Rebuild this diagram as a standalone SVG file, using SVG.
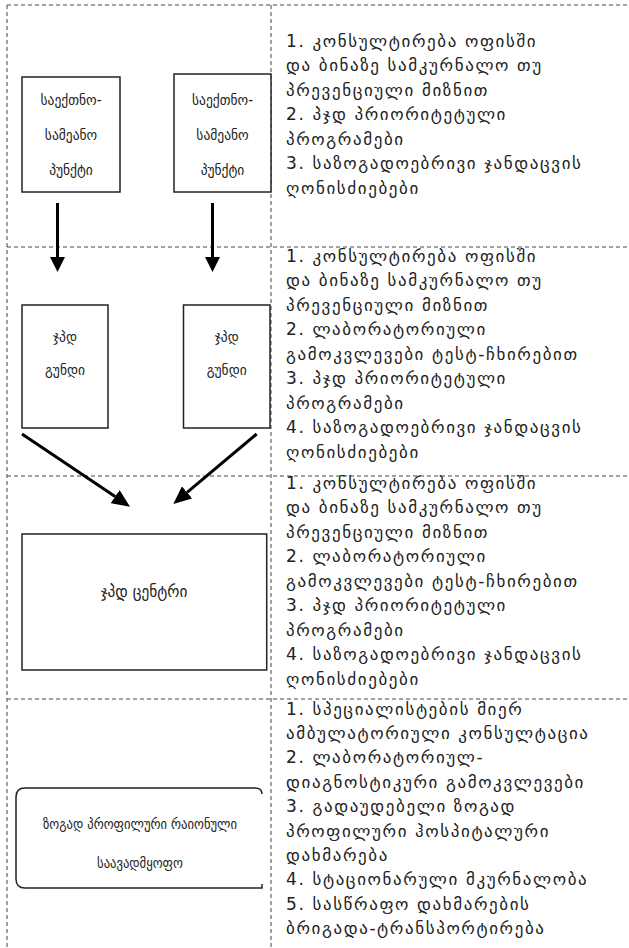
<svg xmlns="http://www.w3.org/2000/svg" width="629" height="948" viewBox="0 0 629 948">
<style>
  .grid { stroke: #444; stroke-width: 1; stroke-dasharray: 4 3; fill: none; }
  .box { fill: #fff; stroke: #222; stroke-width: 1.5; }
  .conn { stroke: #000; stroke-width: 3; fill: none; }
  .list { font-family: "DejaVu Sans", "Noto Sans", sans-serif; font-size: 17px; letter-spacing: 1.6px; fill: #222; }
  .lbl { font-family: "DejaVu Sans Condensed", "DejaVu Sans", sans-serif; font-size: 15px; fill: #222; text-anchor: middle; }
</style>
<defs>
  <marker id="headV" viewBox="0 0 15 15" refX="0" refY="7.5" markerWidth="15" markerHeight="15" markerUnits="userSpaceOnUse" orient="auto">
    <path d="M0,0 L15,7.5 L0,15 Z" fill="#000"/>
  </marker>
  <marker id="headD" viewBox="0 0 18 16" refX="0" refY="8" markerWidth="18" markerHeight="16" markerUnits="userSpaceOnUse" orient="auto">
    <path d="M0,0 L18,8 L0,16 Z" fill="#000"/>
  </marker>
</defs>

<g id="grid">
  <line class="grid" x1="7" y1="5" x2="629" y2="5"/>
  <line class="grid" x1="7" y1="5" x2="7" y2="948"/>
  <line class="grid" x1="271" y1="5" x2="271" y2="948"/>
  <line class="grid" x1="7" y1="247" x2="629" y2="247"/>
  <line class="grid" x1="7" y1="476" x2="629" y2="476"/>
  <line class="grid" x1="7" y1="699" x2="629" y2="699"/>
</g>

<g id="connectors">
  <line class="conn" x1="57.5" y1="203" x2="57.5" y2="257" marker-end="url(#headV)"/>
  <line class="conn" x1="212.5" y1="203" x2="212.5" y2="257" marker-end="url(#headV)"/>
  <line class="conn" x1="22" y1="434" x2="115.1" y2="496.6" marker-end="url(#headD)"/>
  <line class="conn" x1="256.7" y1="434" x2="187.1" y2="492.4" marker-end="url(#headD)"/>
</g>

<g id="point1">
  <rect class="box" x="22" y="77" width="98" height="115"/>
  <text class="lbl" x="71" y="105">საექთნო-</text>
  <text class="lbl" x="71" y="140">სამეანო</text>
  <text class="lbl" x="71" y="175">პუნქტი</text>
</g>
<g id="point2">
  <rect class="box" x="174" y="74" width="97" height="118"/>
  <text class="lbl" x="222.5" y="105">საექთნო-</text>
  <text class="lbl" x="222.5" y="140">სამეანო</text>
  <text class="lbl" x="222.5" y="175">პუნქტი</text>
</g>

<g id="team1">
  <rect class="box" x="22" y="305" width="86" height="123"/>
  <text class="lbl" x="65" y="342">ჯპდ</text>
  <text class="lbl" x="65" y="375">გუნდი</text>
</g>
<g id="team2">
  <rect class="box" x="183.5" y="305" width="86.5" height="123"/>
  <text class="lbl" x="226.7" y="342">ჯპდ</text>
  <text class="lbl" x="226.7" y="375">გუნდი</text>
</g>

<g id="center">
  <rect class="box" x="22" y="534" width="244.7" height="136"/>
  <text class="lbl" x="144" y="597" style="font-size:17px">ჯპდ ცენტრი</text>
</g>

<g id="hospital">
  <path class="box" d="M262,794 Q262,788 255,788 L25,788 Q16,788 16,797 L16,879 Q16,888 25,888 L262,888 L262,884"/>
  <text class="lbl" x="140" y="829" style="font-size:14px">ზოგად პროფილური რაიონული</text>
  <text class="lbl" x="140" y="868" style="font-size:14px">საავადმყოფო</text>
</g>

<g id="list1">
  <text class="list" x="286" y="46.5">
    <tspan x="286" dy="0">1. კონსულტირება ოფისში</tspan>
    <tspan x="286" dy="24.5">და ბინაზე სამკურნალო თუ</tspan>
    <tspan x="286" dy="24.5">პრევენციული მიზნით</tspan>
    <tspan x="286" dy="24.5">2. პჯდ პრიორიტეტული</tspan>
    <tspan x="286" dy="24.5">პროგრამები</tspan>
    <tspan x="286" dy="24.5">3. საზოგადოებრივი ჯანდაცვის</tspan>
    <tspan x="286" dy="24.5">ღონისძიებები</tspan>
  </text>
</g>

<g id="list2">
  <text class="list" x="286" y="261.5">
    <tspan x="286" dy="0">1. კონსულტირება ოფისში</tspan>
    <tspan x="286" dy="24.5">და ბინაზე სამკურნალო თუ</tspan>
    <tspan x="286" dy="24.5">პრევენციული მიზნით</tspan>
    <tspan x="286" dy="24.5">2. ლაბორატორიული</tspan>
    <tspan x="286" dy="24.5">გამოკვლევები ტესტ-ჩხირებით</tspan>
    <tspan x="286" dy="24.5">3. პჯდ პრიორიტეტული</tspan>
    <tspan x="286" dy="24.5">პროგრამები</tspan>
    <tspan x="286" dy="24.5">4. საზოგადოებრივი ჯანდაცვის</tspan>
    <tspan x="286" dy="24.5">ღონისძიებები</tspan>
  </text>
</g>

<g id="list3">
  <text class="list" x="286" y="488.5">
    <tspan x="286" dy="0">1. კონსულტირება ოფისში</tspan>
    <tspan x="286" dy="24.5">და ბინაზე სამკურნალო თუ</tspan>
    <tspan x="286" dy="24.5">პრევენციული მიზნით</tspan>
    <tspan x="286" dy="24.5">2. ლაბორატორიული</tspan>
    <tspan x="286" dy="24.5">გამოკვლევები ტესტ-ჩხირებით</tspan>
    <tspan x="286" dy="24.5">3. პჯდ პრიორიტეტული</tspan>
    <tspan x="286" dy="24.5">პროგრამები</tspan>
    <tspan x="286" dy="24.5">4. საზოგადოებრივი ჯანდაცვის</tspan>
    <tspan x="286" dy="24.5">ღონისძიებები</tspan>
  </text>
</g>

<g id="list4">
  <text class="list" x="286" y="714.5">
    <tspan x="286" dy="0">1. სპეციალისტების მიერ</tspan>
    <tspan x="286" dy="24.4">ამბულატორიული კონსულტაცია</tspan>
    <tspan x="286" dy="24.4">2. ლაბორატორიულ-</tspan>
    <tspan x="286" dy="24.4">დიაგნოსტიკური გამოკვლევები</tspan>
    <tspan x="286" dy="24.4">3. გადაუდებელი ზოგად</tspan>
    <tspan x="286" dy="24.4">პროფილური ჰოსპიტალური</tspan>
    <tspan x="286" dy="24.4">დახმარება</tspan>
    <tspan x="286" dy="24.4">4. სტაციონარული მკურნალობა</tspan>
    <tspan x="286" dy="24.4">5. სასწრაფო დახმარების</tspan>
    <tspan x="286" dy="24.4">ბრიგადა-ტრანსპორტირება</tspan>
  </text>
</g>
</svg>
